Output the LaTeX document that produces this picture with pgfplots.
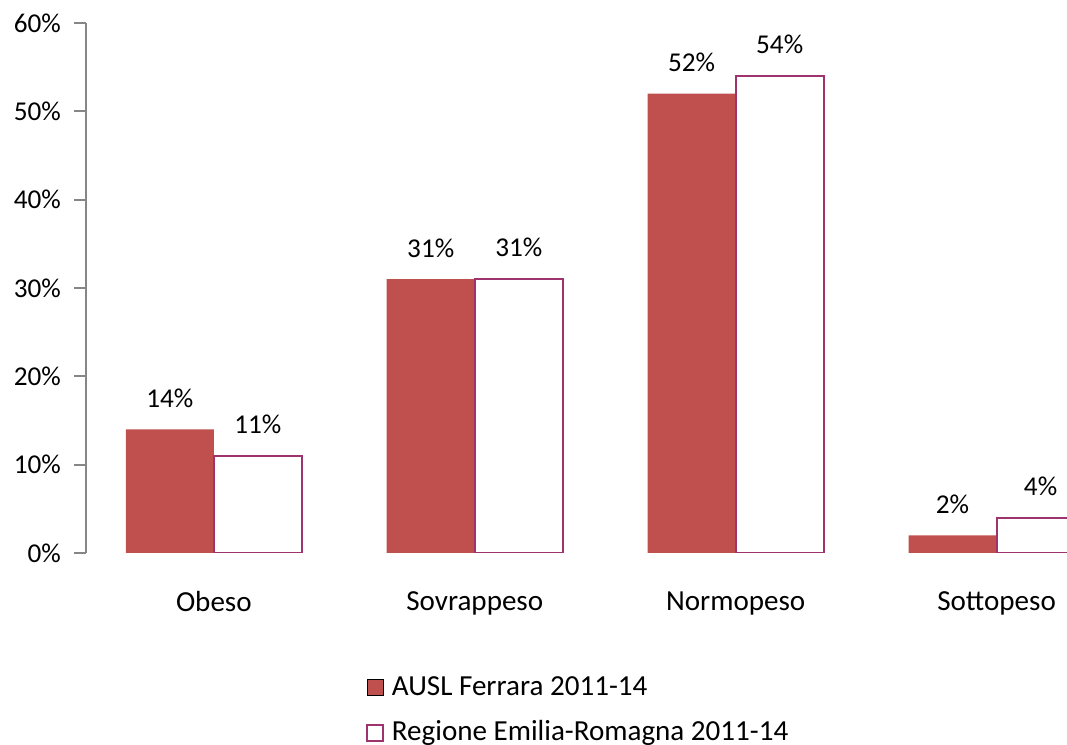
\documentclass[border=0pt]{standalone}
\usepackage{pgfplots}
\pgfplotsset{compat=1.18}
\usepackage{fontspec}
\setmainfont{Carlito}
\definecolor{barred}{HTML}{C0504D}
\definecolor{barpurple}{RGB}{158,52,110}
\definecolor{axgray}{HTML}{868686}
\begin{document}
\fontsize{20}{24}\selectfont
\begin{tikzpicture}
\clip[use as bounding box] (0,0) rectangle (800.25pt,558.75pt);
\begin{axis}[
  at={(64.5pt,144pt)}, anchor=south west,
  scale only axis, width=735.75pt, height=397.5pt,
  xmin=-0.49, xmax=3.27, ymin=0, ymax=60,
  axis lines=left, axis line style={-},
  x axis line style={draw=none},
  y axis line style={axgray, line width=1.5pt},
  xtick={0,1,2,3}, xticklabels={Obeso,Sovrappeso,Normopeso,Sottopeso},
  xtick style={draw=none},
  xticklabel style={yshift=-13pt, font=\fontsize{21.8}{26}\selectfont},
  ytick={0,10,20,30,40,50,60},
  yticklabel={\pgfmathprintnumber{\tick}\%},
  yticklabel style={xshift=-3pt, font=\fontsize{20.4}{24}\selectfont},
  ytick style={axgray, line width=1.5pt},
  tick align=outside, major tick length=9pt,
  /pgf/number format/assume math mode=true,
  ybar=0pt, bar width=0.3375,
  nodes near coords={\pgfmathprintnumber{\pgfplotspointmeta}\%},
  every node near coord/.append style={text=black, inner sep=0pt, yshift=16pt, font=\fontsize{20.4}{24}\selectfont},
  legend style={at={(axis description cs:0.281,-0.222)}, anchor=north west, draw=none, fill=none,
    row sep=12pt, font=\fontsize{21.8}{26}\selectfont,
    /tikz/every even column/.append style={column sep=0pt}},
  legend cell align=left,
  legend image code/.code={\draw[#1] (0pt,-6pt) rectangle (12pt,6pt);},
  legend style={nodes={inner xsep=6pt}},
]
\addplot[fill=barred, draw=none] coordinates {(0,14) (1,31) (2,52) (3,2)};
\addlegendentry{AUSL Ferrara 2011-14}
\addplot[fill=white, draw=barpurple, line width=1.5pt] coordinates {(0,11) (1,31) (2,54) (3,4)};
\addlegendentry{Regione Emilia-Romagna 2011-14}
\end{axis}
\end{tikzpicture}
\end{document}
